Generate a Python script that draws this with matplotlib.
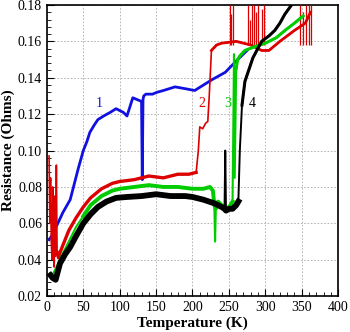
import numpy as np
import matplotlib
matplotlib.use("Agg")
import matplotlib.pyplot as plt
from matplotlib.ticker import MultipleLocator, FormatStrFormatter

# curve 1 (blue)
T1 = [3, 8, 15, 22, 32, 43, 50, 55, 59, 65, 70, 78, 87, 95, 100, 105, 110, 114, 118, 124, 130,
      131, 132, 133, 136, 145, 151, 160, 176, 190, 203, 215, 227, 245, 262, 275]
R1 = [0.051, 0.054, 0.060, 0.066, 0.073, 0.090, 0.100, 0.105, 0.110, 0.114, 0.117, 0.119,
      0.121, 0.123, 0.122, 0.121, 0.119, 0.124, 0.129, 0.128, 0.127,
      0.084, 0.128, 0.130, 0.131, 0.131, 0.132, 0.133, 0.135, 0.134, 0.133, 0.136, 0.139,
      0.143, 0.150, 0.155]

# curve 2 (red)
T2 = [3, 4, 5, 6, 7, 8, 9, 10, 11, 12, 13, 14, 16, 18, 20, 25, 30, 40, 50, 60, 75, 90, 100,
      120, 140, 160, 180, 195, 205, 208, 210, 214, 218, 221, 223, 226, 233, 240, 260, 280,
      295, 305, 320, 340, 355, 362]
R2 = [0.097, 0.060, 0.085, 0.050, 0.040, 0.080, 0.045, 0.036, 0.075, 0.042, 0.092, 0.044,
      0.041, 0.044, 0.046, 0.051, 0.056, 0.063, 0.069, 0.074, 0.079, 0.082, 0.083,
      0.084, 0.086, 0.085, 0.087, 0.087, 0.088, 0.100, 0.113, 0.112, 0.115, 0.116, 0.130,
      0.155, 0.158, 0.159, 0.160, 0.158, 0.155, 0.155, 0.160, 0.166, 0.170, 0.176]
# red spikes above the upper plateau (T, peak)
spike_T = [251, 253, 256, 276, 279, 282, 284, 287, 290, 295, 298, 348, 352, 356, 360, 363]
spike_R = [0.180, 0.175, 0.180, 0.180, 0.172, 0.180, 0.180, 0.176, 0.180, 0.178, 0.180,
           0.180, 0.176, 0.180, 0.180, 0.180]

# curve 3 (green)
T3 = [4, 8, 12, 20, 30, 40, 50, 60, 75, 90, 100, 120, 140, 160, 180, 200, 215, 224, 228,
      230, 231, 232, 235, 240, 248, 252, 255, 256, 257, 258, 260, 262, 265, 272, 285, 300,
      315, 327, 340, 352]
R3 = [0.0325, 0.032, 0.035, 0.042, 0.050, 0.058, 0.064, 0.070, 0.075, 0.078, 0.079, 0.080,
      0.081, 0.080, 0.080, 0.079, 0.079, 0.080, 0.078, 0.070, 0.050, 0.068, 0.072, 0.070,
      0.068, 0.070, 0.072, 0.110, 0.153, 0.085, 0.145, 0.150, 0.152, 0.155, 0.157, 0.159,
      0.162, 0.166, 0.170, 0.174]

# curve 4 (black)
T4 = [5, 8, 12, 18, 25, 32, 40, 50, 60, 70, 82, 95, 110, 130, 150, 170, 190, 200, 215, 230,
      240, 244, 245, 246, 250, 255, 260, 263, 265, 268, 272, 283, 295, 305, 313, 320, 327,
      336]
R4 = [0.0315, 0.030, 0.029, 0.038, 0.043, 0.047, 0.053, 0.060, 0.065, 0.069, 0.072, 0.074,
      0.0745, 0.075, 0.076, 0.075, 0.075, 0.0745, 0.073, 0.071, 0.069, 0.068, 0.100, 0.067,
      0.068, 0.068, 0.070, 0.072, 0.100, 0.125, 0.138, 0.151, 0.160, 0.163, 0.166, 0.170,
      0.175, 0.180]

labels = ["1", "2", "3", "4"]
label_T = [72, 213, 249, 282]
label_R = [0.126, 0.126, 0.126, 0.126]
colors = ["#1010e0", "#dd0000", "#00cc00", "#000000"]

plt.rcParams["font.family"] = ["Liberation Serif", "DejaVu Serif"]

fig = plt.figure(figsize=(3.5, 3.32), dpi=100)
ax = fig.add_axes([0.134, 0.108, 0.832, 0.877])

t1, r1 = np.array(T1), np.array(R1)
t2, r2 = np.array(T2), np.array(R2)
t3, r3 = np.array(T3), np.array(R3)
t4, r4 = np.array(T4), np.array(R4)

ax.plot(t1, r1, color=colors[0], lw=2.0, zorder=3)

# red: thin full trace, thicker noisy band in the smooth part
ax.plot(t2, r2, color=colors[1], lw=1.2, zorder=4)
m2 = (t2 >= 14) & (t2 <= 205)
ax.plot(t2[m2], r2[m2], color=colors[1], lw=2.4, zorder=4)
m2b = t2 >= 226
ax.plot(t2[m2b], r2[m2b], color=colors[1], lw=2.0, zorder=4)
ax.vlines(spike_T, 0.158, spike_R, color=colors[1], lw=0.9, zorder=4)

# green
ax.plot(t3, r3, color=colors[2], lw=1.5, zorder=5)
m3 = (t3 <= 255) & (r3 > 0.06)
ax.plot(t3[m3], r3[m3], color=colors[2], lw=2.8, zorder=5)
m3b = t3 >= 260
ax.plot(t3[m3b], r3[m3b], color=colors[2], lw=2.2, zorder=5)

# black
ax.plot(t4, r4, color=colors[3], lw=1.4, zorder=6)
m4 = (t4 <= 263) & (r4 < 0.09)
ax.plot(t4[m4], r4[m4], color=colors[3], lw=4.2, zorder=6)
m4b = t4 >= 268
ax.plot(t4[m4b], r4[m4b], color=colors[3], lw=2.2, zorder=6)

for lab, t, r, c in zip(labels, label_T, label_R, colors):
    ax.text(t, r, lab, color=c, fontsize=10, ha="center", va="center", zorder=7)

ax.set_xlim(0, 400)
ax.set_ylim(0.02, 0.18)
ax.xaxis.set_major_locator(MultipleLocator(50))
ax.xaxis.set_minor_locator(MultipleLocator(10))
ax.yaxis.set_major_locator(MultipleLocator(0.02))
ax.yaxis.set_minor_locator(MultipleLocator(0.004))
ax.yaxis.set_major_formatter(FormatStrFormatter("%.2f"))
ax.tick_params(which="both", direction="in", top=False, right=False, labelsize=10)
ax.tick_params(which="major", length=5, width=0.8)
ax.tick_params(which="minor", length=3, width=0.6)
ax.grid(True, which="major", color="#aaaaaa", ls=(0, (2, 2)), lw=0.6)
for s in ax.spines.values():
    s.set_linewidth(1.2)

ax.set_xlabel("Temperature (K)", fontsize=11, fontweight="bold", labelpad=2)
ax.set_ylabel("Resistance (Ohms)", fontsize=11, fontweight="bold", labelpad=2)

fig.savefig("out.png", dpi=100, facecolor="white")
